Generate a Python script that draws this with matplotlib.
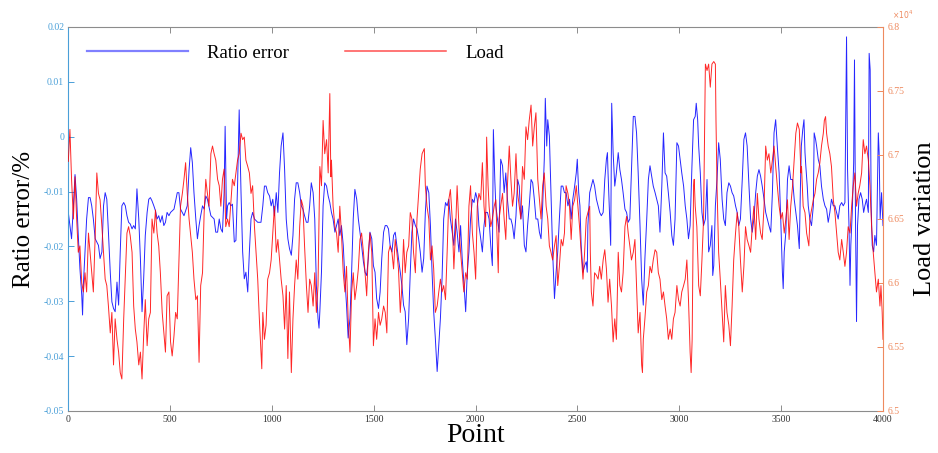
import matplotlib
matplotlib.use("Agg")
import matplotlib.pyplot as plt
from matplotlib.lines import Line2D

# ---------------- data ----------------
err_pts = [0, 8, 16, 25, 33, 41, 49, 57, 66, 70, 74, 82, 90, 99, 107, 115, 123, 132, 140, 148, 156, 165, 173,
           181, 189, 197, 206, 214, 222, 230, 239, 247, 255, 263, 272, 280, 288, 296, 304, 313, 321, 329, 337,
           346, 354, 362, 370, 378, 387, 395, 403, 411, 420, 428, 436, 444, 452, 461, 469, 477, 485, 494,
           502, 519, 535, 543, 551, 568, 584, 593, 601, 609, 617, 626, 634, 642, 650, 659, 667, 675, 683,
           700, 716, 724, 733, 741, 749, 757, 765, 770, 777, 782, 790, 798, 806, 815, 823, 831, 839, 848,
           856, 864, 872, 881, 889, 897, 905, 914, 930, 946, 955, 963, 971, 979, 988, 996, 1004, 1012,
           1021, 1029, 1037, 1045, 1054, 1062, 1070, 1078, 1086, 1095, 1103, 1111, 1119, 1127, 1136, 1144,
           1152, 1160, 1169, 1177, 1185, 1193, 1202, 1210, 1218, 1226, 1231, 1235, 1243, 1251, 1259, 1268,
           1276, 1284, 1292, 1300, 1309, 1317, 1325, 1333, 1341, 1350, 1358, 1366, 1374, 1383, 1391, 1399,
           1407, 1416, 1424, 1432, 1440, 1449, 1457, 1465, 1473, 1481, 1490, 1498, 1506, 1514, 1523, 1531,
           1539, 1548, 1556, 1564, 1572, 1580, 1589, 1597, 1605, 1613, 1621, 1630, 1638, 1646, 1654, 1662,
           1671, 1679, 1687, 1695, 1704, 1712, 1720, 1728, 1737, 1745, 1753, 1761, 1770, 1778, 1786, 1794,
           1802, 1811, 1819, 1827, 1835, 1843, 1852, 1860, 1868, 1876, 1885, 1893, 1901, 1909, 1918, 1926,
           1934, 1942, 1951, 1959, 1967, 1975, 1984, 1992, 2000, 2008, 2016, 2025, 2033, 2041, 2049,
           2058, 2066, 2074, 2082, 2087, 2094, 2099, 2107, 2115, 2123, 2132, 2140, 2148, 2156, 2165, 2173,
           2181, 2189, 2198, 2206, 2214, 2222, 2230, 2239, 2247, 2255, 2263, 2272, 2280, 2288, 2296, 2305,
           2313, 2321, 2329, 2337, 2342, 2349, 2354, 2362, 2370, 2378, 2387, 2395, 2403, 2411, 2420, 2428,
           2436, 2444, 2453, 2461, 2469, 2477, 2486, 2494, 2499, 2506, 2512, 2518, 2527, 2535, 2543, 2548,
           2551, 2560, 2568, 2576, 2584, 2593, 2601, 2609, 2617, 2626, 2634, 2642, 2647, 2650, 2658, 2663,
           2668, 2675, 2683, 2691, 2700, 2708, 2716, 2724, 2733, 2741, 2749, 2757, 2765, 2774, 2782, 2790,
           2798, 2807, 2815, 2823, 2831, 2840, 2848, 2856, 2864, 2872, 2881, 2889, 2897, 2905, 2914, 2922,
           2930, 2938, 2946, 2955, 2963, 2971, 2979, 2988, 2996, 3004, 3012, 3021, 3029, 3037, 3045, 3053,
           3062, 3070, 3078, 3083, 3090, 3095, 3103, 3111, 3119, 3128, 3136, 3144, 3152, 3160, 3164, 3169,
           3177, 3185, 3193, 3201, 3210, 3218, 3226, 3234, 3243, 3251, 3259, 3267, 3276, 3284, 3292, 3300,
           3309, 3317, 3325, 3333, 3342, 3350, 3358, 3366, 3375, 3383, 3391, 3399, 3407, 3416, 3424, 3432,
           3440, 3449, 3457, 3465, 3473, 3481, 3490, 3498, 3506, 3510, 3515, 3523, 3531, 3539, 3547, 3556,
           3564, 3572, 3580, 3589, 3594, 3599, 3606, 3612, 3617, 3621, 3628, 3633, 3641, 3649, 3658, 3662,
           3669, 3674, 3682, 3690, 3698, 3707, 3715, 3723, 3731, 3739, 3747, 3756, 3764, 3772, 3780, 3788,
           3797, 3805, 3813, 3821, 3826, 3833, 3838, 3842, 3849, 3856, 3860, 3865, 3870, 3875, 3882, 3890,
           3898, 3905, 3911, 3919, 3928, 3932, 3937, 3942, 3947, 3954, 3960, 3968, 3977, 3981, 3986, 3993,
           4000]
err_vals = [-0.0138, -0.0162, -0.0186, -0.0126, -0.0069, -0.0114, -0.018, -0.024, -0.0289, -0.0325, -0.027,
            -0.021, -0.015, -0.0111, -0.0111, -0.0126, -0.015, -0.0186, -0.0192, -0.0198, -0.0222, -0.021,
            -0.0126, -0.0102, -0.0114, -0.0174, -0.0247, -0.0301, -0.0313, -0.0319, -0.0265, -0.0307, -0.021,
            -0.0126, -0.012, -0.0126, -0.0144, -0.0156, -0.0159, -0.0168, -0.0162, -0.0168, -0.0095, -0.015,
            -0.0222, -0.0319, -0.0259, -0.018, -0.0138, -0.0114, -0.0111, -0.0117, -0.0126, -0.0135, -0.015,
            -0.0144, -0.0156, -0.0144, -0.0162, -0.0156, -0.0138, -0.0144,
            -0.0138, -0.0132, -0.0102, -0.0102, -0.0132, -0.0144, -0.0126, -0.006, -0.002, -0.0047, -0.0102,
            -0.015, -0.0186, -0.0162, -0.0144, -0.0126, -0.0132, -0.0108, -0.0114, -0.0144, -0.015, -0.0174,
            -0.0174, -0.015, -0.0168, -0.0174, -0.0102, 0.0019, -0.015, -0.0126, -0.012, -0.0126, -0.0123,
            -0.0192, -0.0189, -0.009, 0.0049, -0.0102, -0.021, -0.0259, -0.0247, -0.0283, -0.021, -0.015,
            -0.0138, -0.015, -0.0156, -0.0156, -0.0126, -0.009, -0.009, -0.0102, -0.0108, -0.0126, -0.0114,
            -0.0144,
            -0.0102, -0.0138, -0.0066, -0.0017, 0.0007, -0.006, -0.015, -0.0186, -0.0204, -0.0216, -0.018,
            -0.0114, -0.0084, -0.0084, -0.0102, -0.0126, -0.0132, -0.0144, -0.0156, -0.0156, -0.0126, -0.0084,
            -0.0102, -0.015, -0.0271, -0.0331, -0.0349, -0.0319, -0.0247, -0.0126, -0.0084, -0.009, -0.0108,
            -0.012, -0.0138, -0.015, -0.0174, -0.0162, -0.015, -0.018, -0.0162, -0.0198, -0.0259, -0.0307,
            -0.0367, -0.0331, -0.0247, -0.015, -0.0096, -0.0114, -0.015, -0.0174, -0.0198, -0.0228, -0.0247,
            -0.0253, -0.0222, -0.0174, -0.0186, -0.0235, -0.0247, -0.0295, -0.0313, -0.0283,
            -0.0222, -0.0174, -0.0162, -0.0162, -0.0168, -0.0198, -0.021, -0.018, -0.0174, -0.0198, -0.0222,
            -0.0247, -0.0271, -0.0307, -0.0319, -0.0379, -0.0331, -0.0247, -0.0174, -0.015, -0.0162, -0.0168,
            -0.0186, -0.021, -0.0247, -0.0222, -0.0138, -0.009, -0.0102, -0.0162, -0.0247, -0.0319, -0.0367,
            -0.0428, -0.0379, -0.0331, -0.0259, -0.015, -0.012, -0.0126, -0.0114, -0.015, -0.0174, -0.0198,
            -0.015, -0.0174, -0.021, -0.0162, -0.0222, -0.0265, -0.0319, -0.0247, -0.021, -0.015, -0.0114,
            -0.012, -0.0102, -0.0114, -0.0162, -0.0186, -0.021, -0.0162, -0.0138,
            -0.0138, -0.015, -0.0198, -0.0235, 0.0013, -0.0078, -0.0126, -0.015, -0.0174, -0.0041, -0.0053,
            -0.0102, -0.0066, -0.0114, -0.015, -0.015, -0.0162, -0.0186, -0.0144, -0.0078, -0.009, -0.015,
            -0.0126, -0.0198, -0.021, -0.0162, -0.0126, -0.0078, -0.0084, -0.0114, -0.015, -0.015, -0.0174,
            -0.0186, -0.0126, -0.0041, 0.007, -0.0017, 0.0031, 0.0001, -0.0102, -0.021, -0.0295, -0.0247,
            -0.021, -0.015, -0.009, -0.009, -0.0102, -0.0102, -0.0126, -0.0114, -0.015, -0.0114, -0.009,
            -0.0066, -0.0041, -0.0102, -0.0126, -0.0198, -0.0247, -0.0235, -0.0228, -0.0247,
            -0.0162, -0.0102, -0.009, -0.0078, -0.009, -0.0114, -0.0126, -0.0138, -0.0144, -0.0138, -0.0078,
            -0.0041, -0.0029, -0.0066, -0.015, -0.0198, 0.0061, -0.0029, -0.009, -0.0066, -0.0029, -0.006,
            -0.0078, -0.0102, -0.0132, -0.0138, -0.0156, -0.015, -0.006, 0.0037, 0.0037, 0.0007, -0.0066,
            -0.0162, -0.0259, -0.0307, -0.0222, -0.015, -0.0078, -0.0053, -0.0072, -0.009, -0.0102, -0.0114,
            -0.0126, -0.0174, -0.009, 0.0007, -0.0066, -0.0072, -0.0102, -0.0138, -0.018, -0.0198, -0.015,
            -0.0011, -0.0017, -0.0041, -0.0066, -0.009, -0.0126, -0.015, -0.0186, -0.0162, -0.0053, 0.0031,
            0.0037, 0.0061, 0.0031, -0.0017, -0.0066, -0.0138, -0.0162, -0.015, -0.0078, -0.021, -0.0198,
            -0.0162, -0.0253, -0.0235, -0.0126, -0.0078, -0.0011, -0.0041, -0.0114, -0.015, -0.0162, -0.0102,
            -0.0084, -0.009, -0.0102, -0.0108, -0.0126, -0.0138, -0.0162, -0.015, -0.0078, -0.0005, 0.0007,
            -0.0017, -0.009, -0.015, -0.0174, -0.015, -0.0102, -0.0072, -0.006, -0.0072, -0.009, -0.0114,
            -0.0138, -0.015, -0.0162, -0.0174, -0.0102, 0.0007, 0.0031, -0.0017, -0.0066, -0.015, -0.0247,
            -0.0277, -0.021, -0.0174, -0.0078, -0.0053, -0.0078, -0.0078, -0.0114, -0.0138, -0.0162, -0.0204,
            -0.0102, -0.0017, 0.0013, 0.0031, -0.0029, -0.0053, -0.009, -0.0126, -0.015, -0.0162, -0.0126,
            0.0007, -0.0005, -0.0017, -0.0041, -0.0053, -0.009, -0.0114, -0.0126, -0.0132, -0.0156, -0.0138,
            -0.0114, -0.0126, -0.0126, -0.0138, -0.015, -0.0126, -0.012, -0.0126, -0.012, 0.0182, -0.006,
            -0.0162, -0.0271, -0.0198, -0.0138, -0.0047, 0.014, -0.015, -0.0337, -0.0162, -0.0114, -0.0102,
            -0.0114, -0.0138, -0.0126, -0.0114, -0.0138, 0.0152, 0.0122, -0.0126, -0.0198, -0.021, -0.018,
            -0.0198, 0.0007, -0.0029, -0.015, -0.0102, -0.0162]

load_pts = [0, 8, 16, 25, 33, 41, 49, 57, 66, 74, 82, 90, 99, 107, 115, 123, 132, 140, 148, 156, 165, 173,
            181, 189, 197, 206, 214, 222, 230, 239, 247, 255, 263, 272, 280, 288, 296, 304, 313, 321, 329, 337,
            346, 354, 362, 370, 378, 387, 395, 403, 411, 420, 428, 436, 444, 452, 461, 469, 477, 485, 494,
            502, 510, 519, 527, 535, 543, 551, 560, 568, 576, 584, 593, 601, 609, 617, 626, 634, 642, 650,
            659, 667, 675, 683, 691, 700, 708, 716, 724, 733, 741, 749, 757, 765, 773, 782, 790, 798, 806,
            815, 823, 831, 839, 848, 856, 864, 872, 881, 889, 897, 905, 914, 922, 930, 938, 950, 955, 963,
            971, 979, 988, 996, 1004, 1012,
            1021, 1029, 1037, 1045, 1054, 1062, 1070, 1078, 1086, 1095, 1103, 1111, 1119, 1127, 1136, 1144,
            1152, 1160, 1169, 1177, 1185, 1193, 1202, 1210, 1218, 1226, 1235, 1243, 1251, 1259, 1268, 1276,
            1284, 1289, 1292, 1300, 1309, 1317, 1325, 1333, 1341, 1350, 1358, 1366, 1374, 1383, 1391, 1399,
            1407, 1416, 1424, 1432, 1440, 1449, 1457, 1465, 1473, 1481, 1490, 1498, 1506, 1514, 1523, 1531,
            1539, 1548, 1556, 1564, 1572, 1580, 1589, 1597, 1605, 1613, 1621, 1630, 1638, 1646, 1654, 1662,
            1671, 1679, 1687, 1695, 1704, 1712, 1720, 1728, 1737, 1748, 1753, 1761, 1770, 1778, 1786, 1794,
            1802, 1811, 1819, 1827, 1835, 1843, 1852, 1860, 1868, 1876, 1885, 1893, 1901, 1909, 1918, 1926,
            1934, 1942, 1951, 1959, 1967, 1975, 1984, 1992, 2000, 2008, 2016, 2025, 2033, 2041, 2049,
            2054, 2061, 2066, 2074, 2082, 2091, 2099, 2111, 2115, 2123, 2132, 2140, 2148, 2156, 2165, 2173,
            2181, 2189, 2198, 2206, 2214, 2222, 2230, 2239, 2247, 2255, 2263, 2272, 2280, 2288, 2296, 2305,
            2313, 2321, 2329, 2337, 2346, 2354, 2362, 2370, 2378, 2387, 2395, 2403, 2411, 2420, 2428, 2436,
            2444, 2453, 2461, 2469, 2477, 2486, 2494, 2502, 2510, 2518, 2527, 2535, 2543, 2551, 2560,
            2563, 2568, 2576, 2584, 2593, 2601, 2609, 2617, 2626, 2634, 2642, 2650, 2658, 2667, 2675, 2683,
            2691, 2700, 2708, 2716, 2724, 2733, 2741, 2749, 2757, 2765, 2774, 2782, 2790, 2798, 2807, 2815,
            2819, 2823, 2831, 2840, 2848, 2856, 2864, 2872, 2881, 2889, 2897, 2905, 2914, 2922, 2930, 2938,
            2946, 2955, 2963, 2971, 2979, 2988, 2996, 3004, 3012, 3021, 3029, 3037, 3045, 3053, 3058, 3063,
            3070, 3073, 3078, 3086,
            3095, 3103, 3111, 3119, 3128, 3136, 3144, 3152, 3160, 3169, 3177, 3180, 3185, 3193, 3201, 3210,
            3218, 3226, 3234, 3243, 3251, 3259, 3267, 3276, 3284, 3292, 3300, 3309, 3317, 3325, 3333, 3342,
            3350, 3358, 3366, 3375, 3383, 3391, 3399, 3407, 3416, 3424, 3432, 3440, 3449, 3457, 3465, 3473,
            3481, 3490, 3498, 3506, 3515, 3523, 3531, 3539, 3547, 3556, 3564, 3572, 3580, 3589, 3597,
            3600, 3608, 3617, 3625, 3636, 3641, 3649, 3658, 3666, 3674, 3682, 3690, 3698, 3707, 3712, 3718,
            3723, 3731, 3739, 3747, 3756, 3764, 3772, 3780, 3788, 3797, 3805, 3813, 3821, 3829, 3838, 3846,
            3854, 3862, 3870, 3878, 3886, 3895, 3903, 3911, 3919, 3928, 3936, 3944, 3952, 3960, 3968, 3977,
            3985, 3990, 3996, 4000]
load_vals = [6.695, 6.720, 6.681, 6.650, 6.683, 6.650, 6.624, 6.629, 6.600, 6.593, 6.608, 6.593, 6.639, 6.624,
             6.608, 6.593, 6.637, 6.686, 6.670, 6.665, 6.644, 6.624, 6.603, 6.598, 6.582, 6.561, 6.577, 6.536,
             6.572, 6.556, 6.546, 6.530, 6.525, 6.572, 6.606, 6.639, 6.644, 6.637, 6.624, 6.582, 6.564, 6.554,
             6.536, 6.546, 6.525, 6.559, 6.587, 6.551, 6.572, 6.577, 6.650, 6.639, 6.657, 6.639, 6.629, 6.608,
             6.577, 6.561, 6.546, 6.590, 6.593,
             6.554, 6.543, 6.559, 6.577, 6.572, 6.616, 6.660, 6.670, 6.681, 6.694, 6.670, 6.650, 6.637, 6.624,
             6.603, 6.587, 6.590, 6.538, 6.598, 6.608, 6.655, 6.681, 6.670, 6.660, 6.701, 6.707, 6.701, 6.696,
             6.681, 6.676, 6.660, 6.681, 6.689, 6.644, 6.650, 6.644, 6.663, 6.681, 6.676, 6.686, 6.696, 6.701,
             6.717, 6.712, 6.714, 6.696, 6.691, 6.686, 6.670, 6.676, 6.644, 6.624, 6.603, 6.572, 6.533, 6.577,
             6.556, 6.567, 6.603, 6.608, 6.618, 6.639, 6.660,
             6.624, 6.634, 6.618, 6.603, 6.590, 6.564, 6.598, 6.541, 6.593, 6.530, 6.572, 6.598, 6.618, 6.603,
             6.644, 6.665, 6.660, 6.629, 6.598, 6.577, 6.603, 6.598, 6.582, 6.608, 6.577, 6.598, 6.691, 6.676,
             6.727, 6.701, 6.712, 6.686, 6.748, 6.683, 6.696, 6.660, 6.644, 6.639, 6.624, 6.660, 6.639, 6.608,
             6.593, 6.613, 6.572, 6.546, 6.593, 6.608, 6.587, 6.598, 6.611, 6.634, 6.639, 6.624, 6.608, 6.590,
             6.624, 6.639, 6.624, 6.551, 6.572, 6.556, 6.577, 6.567,
             6.572, 6.582, 6.577, 6.561, 6.624, 6.629, 6.624, 6.611, 6.634, 6.624, 6.611, 6.577, 6.598, 6.634,
             6.608, 6.624, 6.629, 6.655, 6.650, 6.624, 6.608, 6.650, 6.670, 6.689, 6.701, 6.705, 6.676, 6.660,
             6.650, 6.618, 6.629, 6.611, 6.577, 6.582, 6.593, 6.603, 6.593, 6.598, 6.587, 6.624, 6.665, 6.673,
             6.650, 6.611, 6.639, 6.676, 6.644, 6.624, 6.608, 6.593, 6.608, 6.603, 6.660, 6.676, 6.639, 6.624,
             6.603, 6.660, 6.670, 6.665, 6.694, 6.660, 6.644,
             6.714, 6.676, 6.660, 6.644, 6.650, 6.660, 6.665, 6.608, 6.650, 6.660, 6.670, 6.650, 6.634, 6.676,
             6.707, 6.681, 6.660, 6.670, 6.701, 6.670, 6.660, 6.650, 6.691, 6.681, 6.722, 6.712, 6.727, 6.739,
             6.707, 6.722, 6.733, 6.681, 6.665, 6.650, 6.676, 6.686, 6.660, 6.650, 6.629, 6.624, 6.618, 6.629,
             6.637, 6.598, 6.613, 6.634, 6.629, 6.639, 6.676, 6.670, 6.660, 6.634, 6.660, 6.665, 6.676, 6.660,
             6.644, 6.624, 6.603, 6.624, 6.650, 6.655, 6.660,
             6.624, 6.593, 6.582, 6.608, 6.606, 6.603, 6.613, 6.603, 6.618, 6.626, 6.611, 6.585, 6.603, 6.582,
             6.554, 6.572, 6.556, 6.624, 6.598, 6.593, 6.608, 6.644, 6.652, 6.639, 6.629, 6.618, 6.624, 6.634,
             6.598, 6.561, 6.577, 6.536, 6.530, 6.556, 6.572, 6.593, 6.598, 6.613, 6.608, 6.618, 6.626, 6.624,
             6.608, 6.603, 6.587, 6.593, 6.582, 6.572, 6.556, 6.564, 6.556, 6.572, 6.577, 6.598, 6.587, 6.582,
             6.593, 6.598, 6.603, 6.618, 6.587, 6.546, 6.530, 6.556, 6.676, 6.681, 6.660, 6.644,
             6.598, 6.590, 6.618, 6.650, 6.771, 6.766, 6.771, 6.753, 6.771, 6.773, 6.771, 6.727, 6.676, 6.624,
             6.603, 6.577, 6.554, 6.598, 6.577, 6.567, 6.551, 6.582, 6.618, 6.639, 6.655, 6.644, 6.618, 6.593,
             6.613, 6.644, 6.634, 6.629, 6.624, 6.644, 6.660, 6.634, 6.670, 6.650, 6.639, 6.634, 6.660, 6.707,
             6.696, 6.701, 6.686, 6.696, 6.707, 6.691, 6.676, 6.660, 6.650, 6.655, 6.639, 6.650, 6.665, 6.634,
             6.660, 6.676, 6.696, 6.717, 6.725, 6.720, 6.686,
             6.691, 6.660, 6.655, 6.639, 6.629, 6.650, 6.657, 6.665, 6.670, 6.681, 6.686, 6.694, 6.707, 6.717,
             6.727, 6.730, 6.717, 6.707, 6.701, 6.691, 6.665, 6.655, 6.639, 6.624, 6.618, 6.634, 6.624, 6.613,
             6.624, 6.644, 6.639, 6.660, 6.676, 6.686, 6.660, 6.670, 6.676, 6.686, 6.712, 6.701, 6.707, 6.696,
             6.676, 6.644, 6.624, 6.608, 6.593, 6.603, 6.582, 6.598, 6.577, 6.556]

x_ticks = [0, 500, 1000, 1500, 2000, 2500, 3000, 3500, 4000]
left_ticks = [0.02, 0.01, 0, -0.01, -0.02, -0.03, -0.04, -0.05]
left_labels = ["0.02", "0.01", "0", "-0.01", "-0.02", "-0.03", "-0.04", "-0.05"]
right_ticks = [6.5, 6.55, 6.6, 6.65, 6.7, 6.75, 6.8]
right_labels = ["6.5", "6.55", "6.6", "6.65", "6.7", "6.75", "6.8"]

# ---------------- styling ----------------
SERIF = ["Liberation Serif", "DejaVu Serif"]
plt.rcParams["font.family"] = SERIF
BLUE_AX = "#4a9fd8"
ORANGE_AX = "#ee8a5f"
GRAY = "#8c8c8c"

fig = plt.figure(figsize=(9.38, 4.53), dpi=100)
ax = fig.add_axes([68.3 / 938, 1 - 411 / 453, (883 - 68.3) / 938, (411 - 27) / 453])
ax2 = ax.twinx()

ax.plot(err_pts, err_vals, color="#0000ff", lw=0.7, alpha=0.85)
ax2.plot(load_pts, load_vals, color="#ff0000", lw=0.7, alpha=0.85)

ax.set_xlim(0, 4000)
ax.set_ylim(-0.05, 0.02)
ax2.set_ylim(6.5, 6.8)

ax.set_xticks(x_ticks)
ax.set_xticklabels([str(t) for t in x_ticks])
ax.set_yticks(left_ticks)
ax.set_yticklabels(left_labels)
ax2.set_yticks(right_ticks)
ax2.set_yticklabels(right_labels)

ax.tick_params(axis="x", which="both", direction="in", top=True, bottom=True, length=4,
               color=GRAY, labelcolor="#333333", labelsize=7, pad=3, width=0.7)
ax.tick_params(axis="y", direction="in", length=4, color=BLUE_AX, labelcolor=BLUE_AX,
               labelsize=7, pad=3, width=0.7)
ax2.tick_params(axis="y", direction="in", length=4, color=ORANGE_AX, labelcolor=ORANGE_AX,
                labelsize=7, pad=3, width=0.7)

for s in ["top", "bottom"]:
    ax.spines[s].set_color(GRAY)
    ax.spines[s].set_linewidth(0.8)
ax.spines["left"].set_color(BLUE_AX)
ax.spines["left"].set_linewidth(0.8)
ax.spines["right"].set_visible(False)
for s in ["top", "bottom", "left"]:
    ax2.spines[s].set_visible(False)
ax2.spines["right"].set_color(ORANGE_AX)
ax2.spines["right"].set_linewidth(0.8)

ax.set_xlabel("Point", fontsize=20, labelpad=-1)
ax.set_ylabel("Ratio error/%", fontsize=18, labelpad=6)
ax2.set_ylabel("Load variation", fontsize=19, labelpad=7, rotation=90)

fig.text(892 / 938, 1 - 15 / 453, r"$\times10^{4}$", color=ORANGE_AX, fontsize=5.5,
         ha="left", va="center")

h_err = Line2D([], [], color="#8080ff", lw=1.6)
h_load = Line2D([], [], color="#ff5050", lw=1.1)
leg = ax2.legend(handles=[h_err, h_load], labels=["Ratio error", "Load"],
                 loc="center left", bbox_to_anchor=(0.023, 0.932),
                 ncol=2, frameon=False, fontsize=13.5, handlelength=5.4, handletextpad=1.0,
                 columnspacing=3.0, borderaxespad=0, borderpad=0)

fig.savefig("out.png", dpi=100)
